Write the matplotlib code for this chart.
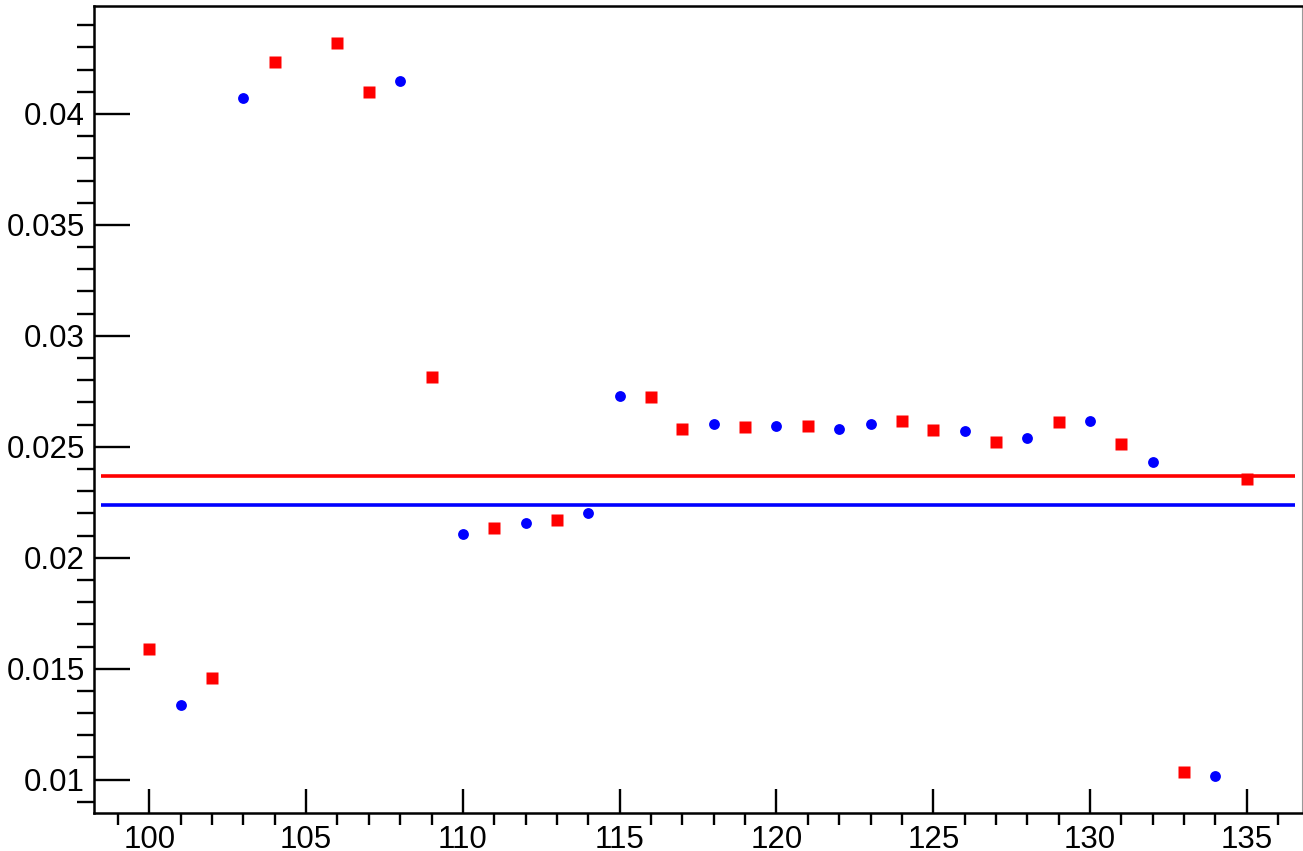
import numpy as np
import matplotlib
matplotlib.use("Agg")
import matplotlib.pyplot as plt
from matplotlib.ticker import MultipleLocator, FormatStrFormatter

plt.rcParams['font.family'] = ['Liberation Sans', 'DejaVu Sans']

# red squares
red_x = [100, 102, 104, 106, 107, 109, 111, 113, 116, 117, 119, 121, 124, 125, 127, 129, 131, 133, 135]
red_y = [0.0159, 0.0146, 0.04234, 0.0432, 0.04099, 0.02815, 0.02135, 0.02171, 0.02725, 0.02581,
         0.0259, 0.02595, 0.02617, 0.02577, 0.02523, 0.02613, 0.02514, 0.01036, 0.02356]
# blue circles
blue_x = [101, 103, 108, 110, 112, 114, 115, 118, 120, 122, 123, 126, 128, 130, 132, 134]
blue_y = [0.01338, 0.04072, 0.04149, 0.02108, 0.02158, 0.02203, 0.0273, 0.02604, 0.02595,
          0.02581, 0.02604, 0.02572, 0.0254, 0.02617, 0.02432, 0.01018]
# mean lines
red_mean = 0.02369
blue_mean = 0.02239

fig = plt.figure(figsize=(13.03, 8.51), dpi=100)
ax = fig.add_axes([0.0725, 0.0447, 0.9265, 0.9479])

ax.hlines(red_mean, 98.45, 136.55, color='#ff0000', lw=2.6)
ax.hlines(blue_mean, 98.45, 136.55, color='#0000ff', lw=2.6)
ax.plot(red_x, red_y, 's', color='#ff0000', ms=8, mec='none')
ax.plot(blue_x, blue_y, 'o', color='#0000ff', ms=7.8, mec='none')

ax.set_xlim(98.25, 136.75)
ax.set_ylim(0.0085, 0.04485)

ax.xaxis.set_major_locator(MultipleLocator(5))
ax.xaxis.set_minor_locator(MultipleLocator(1))
ax.yaxis.set_major_locator(MultipleLocator(0.005))
ax.yaxis.set_minor_locator(MultipleLocator(0.001))
ax.xaxis.set_major_formatter(FormatStrFormatter('%g'))
ax.yaxis.set_major_formatter(FormatStrFormatter('%g'))

ax.tick_params(axis='both', direction='in', labelsize=22.5, width=1.7, colors='black')
ax.tick_params(axis='y', which='major', length=26, pad=7)
ax.tick_params(axis='y', which='minor', length=12.5, width=1.7)
ax.tick_params(axis='x', which='major', length=17, pad=9)
ax.tick_params(axis='x', which='minor', length=8.5, width=1.7)

for s in ['left', 'bottom', 'top']:
    ax.spines[s].set_linewidth(1.8)
ax.spines['right'].set_color('#999999')
ax.spines['right'].set_linewidth(0.8)

fig.savefig('out.png', dpi=100)
